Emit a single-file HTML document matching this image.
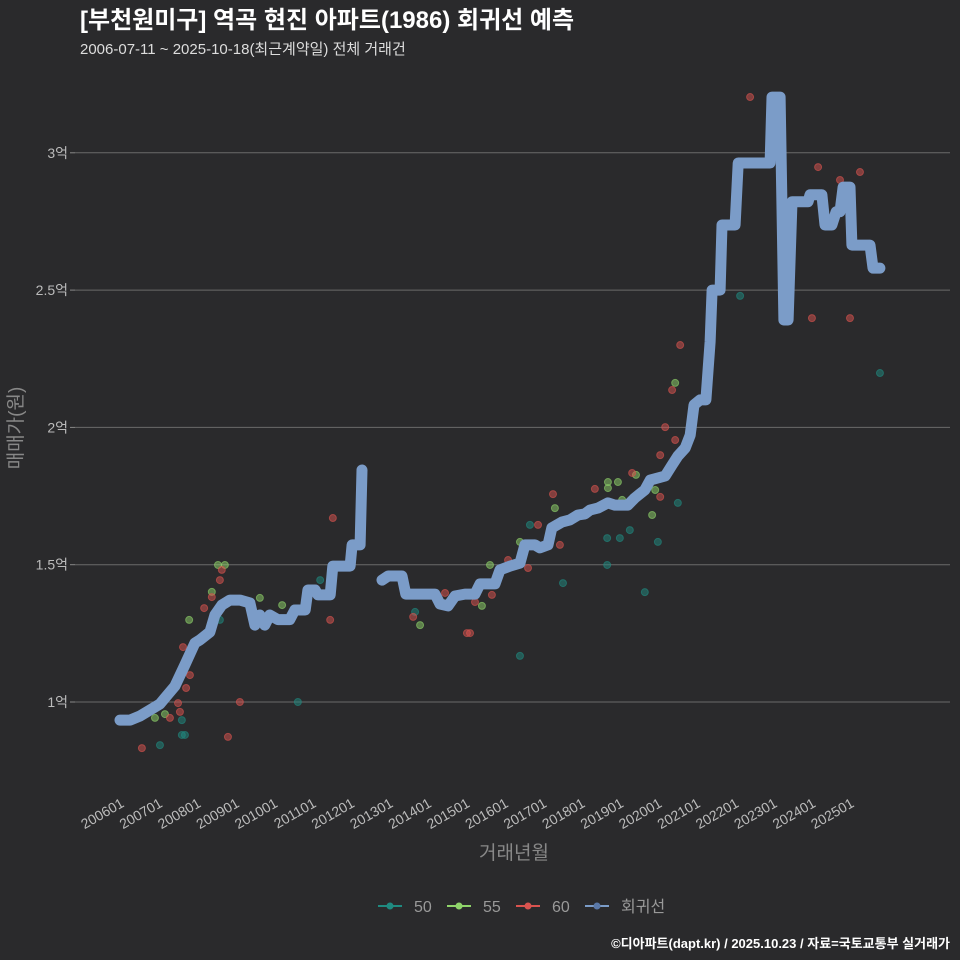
<!DOCTYPE html>
<html><head><meta charset="utf-8"><style>
html,body{margin:0;padding:0;background:#2a2a2c;}
svg{display:block;font-family:"Liberation Sans","Noto Sans CJK KR",sans-serif;}
</style></head><body>
<svg id="chart" width="960" height="960" viewBox="0 0 960 960">
<rect x="0" y="0" width="960" height="960" fill="#2a2a2c"/>
<text x="80" y="28" fill="#ffffff" font-size="24" font-weight="bold">[부천원미구] 역곡 현진 아파트(1986) 회귀선 예측</text>
<text x="80" y="54" fill="#dddddd" font-size="15">2006-07-11 ~ 2025-10-18(최근계약일) 전체 거래건</text>
<g id="grid"></g>
<g id="xaxis"></g>
<g id="points"></g>
<g id="reg"></g>
<text x="0" y="0" transform="translate(22,428) rotate(-90)" text-anchor="middle" fill="#888" font-size="19">매매가(원)</text>
<text x="514" y="859" text-anchor="middle" fill="#888" font-size="19">거래년월</text>
<g font-size="16" fill="#999">
 <g><line x1="378" y1="906" x2="402" y2="906" stroke="#1f8a80" stroke-width="2"/><circle cx="390" cy="906" r="3.5" fill="#1f8a80"/><text x="414" y="912">50</text></g>
 <g><line x1="447" y1="906" x2="471" y2="906" stroke="#8fd46a" stroke-width="2"/><circle cx="459" cy="906" r="3.5" fill="#8fd46a"/><text x="483" y="912">55</text></g>
 <g><line x1="516" y1="906" x2="540" y2="906" stroke="#d9534f" stroke-width="2"/><circle cx="528" cy="906" r="3.5" fill="#d9534f"/><text x="552" y="912">60</text></g>
 <g><line x1="585" y1="906" x2="609" y2="906" stroke="#7b9cc8" stroke-width="2"/><circle cx="597" cy="906" r="3.5" fill="#5a78a8"/><text x="621" y="912">회귀선</text></g>
</g>
<text x="950" y="948" text-anchor="end" fill="#ffffff" font-size="13" font-weight="bold">©디아파트(dapt.kr) / 2025.10.23 / 자료=국토교통부 실거래가</text>
</svg>
<script>
const yTicks=[1,1.5,2,2.5,3];
const yTickLabels=["1억","1.5억","2억","2.5억","3억"];
const xTickYears=[2006,2007,2008,2009,2010,2011,2012,2013,2014,2015,2016,2017,2018,2019,2020,2021,2022,2023,2024,2025];
const xTickLabels=["200601","200701","200801","200901","201001","201101","201201","201301","201401","201501","201601","201701","201801","201901","202001","202101","202201","202301","202401","202501"];
const reg1T=[2006.00,2006.26,2006.52,2006.78,2007.04,2007.17,2007.43,2007.69,2007.95,2008.08,2008.34,2008.47,2008.65,2008.86,2009.12,2009.38,2009.51,2009.64,2009.77,2009.90,2010.11,2010.42,2010.55,2010.82,2010.89,2011.08,2011.15,2011.47,2011.54,2011.99,2012.04,2012.25,2012.30];
const reg1V=[0.934,0.934,0.949,0.971,0.993,1.015,1.058,1.135,1.215,1.226,1.255,1.317,1.353,1.371,1.371,1.361,1.28,1.317,1.28,1.317,1.30,1.30,1.335,1.335,1.408,1.408,1.39,1.39,1.495,1.495,1.572,1.572,1.845];
const reg2T=[2012.82,2012.98,2013.34,2013.44,2013.81,2014.20,2014.33,2014.54,2014.72,2014.98,2015.24,2015.37,2015.76,2015.89,2016.15,2016.41,2016.54,2016.80,2016.93,2017.14,2017.24,2017.50,2017.71,2017.92,2018.10,2018.23,2018.44,2018.70,2018.88,2019.22,2019.40,2019.66,2019.80,2020.19,2020.37,2020.52,2020.71,2020.84,2020.94,2021.10,2021.25,2021.36,2021.41,2021.62,2021.67,2022.01,2022.09,2022.92,2022.97,2023.18,2023.28,2023.39,2023.49,2023.91,2023.96,2024.27,2024.35,2024.53,2024.64,2024.74,2024.82,2025.00,2025.05,2025.52,2025.60,2025.78];
const reg2V=[1.444,1.459,1.459,1.393,1.393,1.393,1.357,1.350,1.386,1.393,1.393,1.43,1.43,1.481,1.495,1.506,1.572,1.572,1.561,1.572,1.634,1.655,1.663,1.681,1.685,1.699,1.706,1.725,1.717,1.717,1.743,1.772,1.808,1.823,1.863,1.896,1.925,1.972,2.082,2.10,2.10,2.311,2.50,2.50,2.737,2.737,2.963,2.963,3.203,3.203,2.391,2.391,2.822,2.822,2.847,2.847,2.737,2.737,2.785,2.785,2.875,2.875,2.664,2.664,2.58,2.58];
const s50T=[2007.04,2007.61,2007.69,2007.61,2010.63,2011.21,2013.68,2016.41,2017.53,2018.68,2018.68,2019.01,2019.27,2019.66,2020.00,2020.52,2022.14,2025.78,2016.67,2008.60];
const s50V=[0.843,0.880,0.880,0.934,1.0,1.444,1.328,1.168,1.433,1.597,1.499,1.597,1.626,1.40,1.583,1.725,2.479,2.198,1.645,1.299];
const s55T=[2008.55,2008.73,2007.80,2008.39,2009.25,2009.64,2010.22,2006.91,2007.17,2015.63,2015.42,2013.81,2018.70,2018.70,2018.96,2019.07,2019.43,2019.85,2019.93,2020.45,2016.41,2017.32];
const s55V=[1.499,1.499,1.299,1.401,1.364,1.379,1.353,0.942,0.956,1.499,1.350,1.28,1.801,1.779,1.801,1.736,1.827,1.681,1.772,2.162,1.583,1.706];
const s60T=[2006.57,2007.30,2007.56,2007.64,2007.51,2007.82,2007.72,2008.19,2008.39,2008.60,2008.65,2008.81,2009.12,2011.54,2011.47,2013.63,2014.46,2015.03,2015.11,2015.24,2015.68,2016.10,2016.62,2016.88,2017.27,2017.45,2018.36,2019.33,2020.06,2020.06,2020.19,2020.37,2020.58,2020.45,2022.40,2024.01,2024.17,2024.74,2025.00,2025.26];
const s60V=[0.832,0.942,0.964,1.200,0.996,1.098,1.051,1.342,1.382,1.444,1.481,0.873,1.0,1.670,1.299,1.310,1.397,1.251,1.251,1.364,1.390,1.517,1.488,1.645,1.757,1.572,1.776,1.834,1.747,1.899,2.001,2.136,2.30,1.954,3.203,2.398,2.948,2.901,2.398,2.930];

const NS="http://www.w3.org/2000/svg";
const xS=t=>120+(t-2006)*38.42;
const yS=v=>702-(v-1)*274.6;
function mk(tag,parent,attrs){const e=document.createElementNS(NS,tag);for(const k in attrs)e.setAttribute(k,attrs[k]);parent.appendChild(e);return e;}
const grid=document.getElementById('grid');
yTicks.forEach((v,i)=>{
 const l=mk('line',grid,{x1:75,x2:950,y1:yS(v),y2:yS(v),stroke:'#6a6a6a','stroke-width':1});
 
 
 const tk=mk('line',grid,{x1:70,x2:75,y1:yS(v),y2:yS(v),stroke:'#888'});
 
 
 const t=mk('text',grid,{x:68,y:yS(v)+5,'text-anchor':'end',fill:'#bbb','font-size':14});
 
 
 t.textContent=yTickLabels[i];
});
const xa=document.getElementById('xaxis');
xTickYears.forEach((yr,i)=>{
 const x=xS(yr);
 const t=mk('text',xa,{x:0,y:0,transform:`translate(${x+5},${806}) rotate(-30)`,'text-anchor':'end',fill:'#bbb','font-size':14});
 
 
 t.textContent=xTickLabels[i];
});
const pts=document.getElementById('points');
[[s50T,s50V,'#1f8a80','points-50'],[s55T,s55V,'#8fd46a','points-55'],[s60T,s60V,'#d9534f','points-60']].forEach(([T,V,c,n])=>{
 T.forEach((t,i)=>{
  const p=mk('circle',pts,{cx:xS(t),cy:yS(V[i]),r:3.5,fill:c,'fill-opacity':0.5,stroke:c,'stroke-opacity':0.6});
  
  
 });
});
const reg=document.getElementById('reg');
[[reg1T,reg1V],[reg2T,reg2V]].forEach(([T,V])=>{
 const d=T.map((t,i)=>(i?'L':'M')+xS(t).toFixed(1)+','+yS(V[i]).toFixed(1)).join('');
 const p=mk('path',reg,{d:d,fill:'none',stroke:'#7b9cc8','stroke-width':11,'stroke-linejoin':'round','stroke-linecap':'round'});
 
 
});
</script>
</body></html>
